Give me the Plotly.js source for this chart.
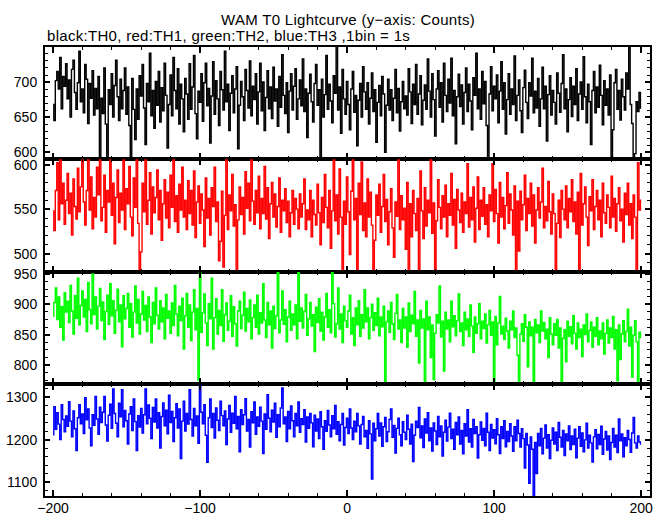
<!DOCTYPE html>
<html>
<head>
<meta charset="utf-8">
<script src="https://cdn.plot.ly/plotly-3.0.1.min.js"></script>
<style>html,body{margin:0;padding:0;background:#fff;}#chart{width:669px;height:515px;}
.annotation-text{letter-spacing:0.3px;}</style>
</head>
<body>
<div id="chart"></div>
<script>
// Time bins (1 bin = 1 s), from -200 s to +200 s
const binStart = -200;
const binSize = 1;

const th0 = [
668,645,702,715,690,735,662,708,694,726,
676,703,650,718,731,685,661,699,744,672,
690,656,725,704,641,698,677,716,653,691,
662,708,592,677,655,720,640,590,689,668,
712,650,695,731,679,645,704,662,688,720,
654,693,638,591,705,661,618,690,647,709,
680,725,663,611,698,672,741,652,688,634,
701,667,715,643,692,659,727,681,606,668,
710,652,735,688,662,719,640,697,676,629,
705,683,647,726,661,693,738,655,619,687,
671,712,644,699,727,666,691,613,680,729,
654,702,676,638,715,689,660,744,672,697,
631,684,709,656,690,722,605,667,701,679,
645,718,688,663,730,652,694,675,712,640,
686,727,659,700,631,678,716,662,693,648,
721,673,690,637,708,664,739,681,655,699,
628,687,712,660,694,719,647,676,703,666,
733,658,690,621,684,711,672,643,698,725,
667,689,589,704,650,682,738,661,697,673,
642,709,684,752,660,693,627,718,676,654,
701,668,632,690,715,657,681,609,674,698,
650,722,686,661,699,640,677,713,658,689,
614,671,695,652,708,683,600,667,704,660,
689,645,677,718,656,691,630,672,701,662,
680,653,719,686,641,697,668,725,654,683,
709,639,674,696,661,733,687,650,712,675,
623,690,716,664,699,643,727,681,658,704,
670,734,652,688,612,679,711,665,696,640,
685,720,658,697,673,632,706,681,741,662,
690,647,715,669,701,638,590,683,722,659,
694,676,710,642,687,729,661,699,626,675,
712,654,690,668,737,645,681,703,659,628,
692,717,671,648,699,680,734,656,687,663,
705,637,676,721,662,694,616,682,709,653,
688,671,640,713,684,657,698,739,662,690,
629,675,706,651,694,668,719,645,683,700,
661,736,679,642,697,672,611,688,715,656,
693,664,724,681,639,702,667,690,653,710,
592,632,699,718,661,688,646,704,679,660,
713,690,752,668,641,588,598,672,658,685,
663];

const th1 = [
548,526,571,602,538,612,556,579,533,560,
590,545,568,521,584,553,539,596,547,575,
609,558,532,571,617,549,586,528,563,541,
597,566,614,537,552,588,524,571,558,606,
543,579,511,563,594,535,568,549,612,527,
573,556,598,541,520,585,552,609,534,478,
502,579,547,611,533,560,591,522,575,546,
563,594,538,571,515,556,583,540,569,529,
588,552,607,536,565,524,578,549,597,541,
560,527,582,545,571,532,593,518,558,576,
534,567,549,508,585,540,562,521,574,553,
597,536,558,492,514,570,485,543,612,527,
566,548,589,531,555,476,538,575,544,563,
522,592,551,579,537,609,559,533,571,546,
587,528,562,545,598,539,574,517,556,580,
541,567,530,553,585,524,560,548,573,535,
559,519,546,571,533,562,550,528,567,541,
556,584,527,549,538,571,519,560,544,532,
578,546,510,563,535,589,552,529,571,506,
548,612,537,566,522,595,541,478,559,533,
586,547,499,570,611,538,562,479,579,544,
603,526,557,519,584,541,569,532,480,515,
566,543,578,524,553,589,536,561,510,547,
573,529,496,558,542,612,527,565,538,551,
505,580,477,556,519,571,545,526,562,482,
593,548,517,574,531,560,546,609,523,557,
478,537,583,552,528,565,541,577,519,556,
543,590,532,561,506,572,549,535,568,524,
558,545,601,530,563,538,575,513,551,586,
527,560,542,574,533,555,519,566,548,601,
536,572,545,512,580,541,563,528,554,591,
534,567,549,521,576,476,559,503,570,538,
555,588,526,562,545,579,531,566,512,549,
574,540,558,596,529,553,537,581,547,522,
567,545,479,534,560,518,571,550,538,576,
529,562,547,583,536,558,522,569,478,590,
532,556,575,541,509,564,548,583,527,553,
571,538,560,519,579,546,534,566,552,529,
587,541,562,525,556,574,537,550,513,568,
544,579,532,556,517,566,541,478,602,549,
560];

const th2 = [
880,903,927,875,912,862,896,841,919,887,
905,870,931,889,851,914,877,943,866,898,
922,879,908,855,936,891,868,950,883,912,
859,897,926,873,904,842,888,915,867,934,
881,906,852,890,925,871,899,830,914,876,
893,918,862,901,846,887,930,869,908,851,
884,921,874,898,855,912,879,837,903,868,
927,882,859,906,871,894,843,916,877,889,
852,902,865,931,884,848,897,873,910,826,
881,918,862,899,840,887,924,858,893,775,
956,854,886,917,869,832,901,876,943,826,
878,909,851,890,865,924,839,883,902,857,
872,914,847,896,868,831,889,905,860,882,
920,856,893,871,907,843,878,899,862,915,
851,886,869,934,874,845,903,866,889,828,
897,860,881,955,853,874,922,867,891,838,
879,905,857,884,866,899,843,952,872,894,
861,888,916,849,876,903,864,883,822,895,
870,909,856,887,841,879,918,862,891,853,
958,901,846,868,927,859,884,837,897,873,
862,889,915,851,878,832,894,866,906,847,
883,861,924,871,894,843,878,900,857,886,
865,910,848,879,863,897,772,871,889,854,
903,868,842,885,916,859,874,837,893,861,
879,829,902,855,882,868,921,847,874,803,
890,861,876,770,905,858,879,812,866,776,
852,883,869,930,846,872,790,887,859,874,
838,905,863,881,848,873,917,855,869,832,
887,858,876,847,899,864,821,879,852,868,
901,843,872,860,884,836,866,890,849,871,
768,880,833,869,913,851,864,842,877,856,
828,872,858,889,845,861,816,770,851,868,
839,883,862,797,871,848,862,773,875,853,
866,837,889,856,870,843,859,812,878,851,
833,868,849,875,828,861,771,844,858,805,
872,847,863,835,881,852,826,869,845,859,
814,866,850,884,838,857,871,829,862,847,
878,833,856,843,869,818,852,874,836,861,
845,880,826,858,774,866,809,851,873,838,
855,892,831,862,780,849,873,838,768,854,
845];

const th3 = [
1212,1278,1225,1264,1237,1201,1283,1248,1219,1256,
1232,1290,1244,1207,1268,1226,1175,1252,1283,1238,
1261,1215,1299,1247,1273,1228,1186,1259,1234,1302,
1249,1213,1277,1241,1265,1302,1235,1197,1258,1284,
1227,1320,1262,1239,1207,1286,1254,1318,1231,1269,
1245,1190,1261,1278,1222,1296,1243,1175,1257,1230,
1274,1216,1259,1320,1238,1282,1251,1203,1276,1242,
1296,1228,1264,1181,1255,1287,1233,1270,1214,1305,
1241,1267,1196,1252,1285,1228,1273,1156,1244,1291,
1221,1262,1237,1318,1248,1209,1274,1233,1256,1192,
1329,1265,1238,1283,1211,1147,1252,1296,1229,1262,
1204,1275,1246,1222,1291,1257,1233,1268,1189,1249,
1281,1218,1263,1239,1302,1226,1255,1172,1271,1236,
1259,1297,1221,1248,1183,1266,1240,1289,1213,1254,
1232,1277,1244,1168,1261,1225,1306,1251,1219,1270,
1242,1286,1206,1259,1231,1275,1322,1238,1254,1196,
1267,1226,1280,1245,1207,1262,1233,1289,1218,1250,
1236,1271,1195,1254,1227,1262,1240,1184,1258,1221,
1249,1203,1266,1231,1178,1245,1220,1269,1235,1207,
1257,1226,1281,1213,1243,1198,1236,1262,1188,1229,
1251,1215,1273,1228,1201,1244,1219,1262,1233,1190,
1236,1255,1207,1222,1180,1245,1214,1108,1239,1198,
1226,1262,1209,1240,1185,1231,1253,1196,1219,1248,
1273,1206,1234,1169,1227,1251,1212,1186,1243,1218,
1201,1258,1225,1190,1237,1149,1211,1244,1229,1276,
1205,1233,1182,1249,1216,1264,1198,1228,1174,1240,
1221,1189,1255,1207,1233,1162,1218,1246,1197,1230,
1263,1203,1225,1178,1241,1212,1254,1190,1222,1167,
1238,1209,1271,1195,1226,1183,1248,1215,1231,1157,
1212,1242,1199,1227,1186,1263,1218,1175,1236,1204,
1224,1191,1250,1212,1168,1231,1203,1245,1184,1220,
1196,1238,1209,1173,1231,1198,1246,1215,1183,1226,
1203,1134,1215,1188,1098,1207,1178,1062,1194,1121,
1215,1186,1227,1167,1204,1235,1181,1212,1156,1199,
1228,1190,1218,1175,1241,1206,1183,1222,1163,1214,
1198,1233,1177,1209,1189,1225,1158,1204,1231,1185,
1216,1172,1200,1239,1181,1211,1193,1148,1207,1224,
1179,1213,1189,1232,1166,1202,1220,1176,1209,1154,
1194,1227,1183,1211,1170,1249,1198,1214,1160,1205,
1186,1222,1201,1171,1216,1253,1193,1181,1209,1195,
1190];

const seriesValues = [th0, th1, th2, th3];
const seriesColors = ['#000000', '#ff0000', '#00ff00', '#0000ff'];
const seriesNames = ['TH0', 'TH1', 'TH2', 'TH3'];
const yRanges = [[590, 749.9], [480, 606], [769, 954], [1068, 1332]];
const yDticks = [50, 50, 50, 100];
const yMinor = [10, 10, 12.5, 20];
const xRange = [-205.5, 206];

const titleText = 'WAM T0 Lightcurve (y\u2212axis: Counts)';
const subtitleText = 'black:TH0, red:TH1, green:TH2, blue:TH3 ,1bin = 1s';

const times = th0.map((_, i) => binStart + i * binSize);

const traces = seriesValues.map((vals, i) => ({
  type: 'scatter', mode: 'lines',
  x: times, y: vals,
  name: seriesNames[i],
  xaxis: i === 0 ? 'x' : 'x' + (i + 1),
  yaxis: i === 0 ? 'y' : 'y' + (i + 1),
  line: {color: seriesColors[i], width: 1.4, shape: 'hvh'},
  hoverinfo: 'skip'
}));

const font = {family: '"Liberation Sans", Arial, Helvetica, sans-serif', size: 14, color: '#000'};
const titleFont = {family: '"Liberation Sans", Arial, Helvetica, sans-serif', size: 15, color: '#000'};

function xAxis(i) {
  return {
    range: xRange, domain: [0, 1],
    anchor: i === 0 ? 'y' : 'y' + (i + 1),
    tickmode: 'linear', tick0: 0, dtick: 100,
    ticks: 'inside', ticklen: 6, tickwidth: 2, tickcolor: '#000',
    minor: {dtick: 20, tick0: 0, ticks: 'inside', ticklen: 3, tickwidth: 1, tickcolor: '#000', showgrid: false},
    showline: true, linecolor: '#000', linewidth: 2, mirror: 'ticks',
    showgrid: false, zeroline: false,
    showticklabels: i === 3,
    ticklabelstandoff: -2,
    tickfont: font
  };
}
function yAxis(i) {
  const top = 1 - i * 0.25;
  return {
    range: yRanges[i], domain: [top - 0.25, top],
    anchor: i === 0 ? 'x' : 'x' + (i + 1),
    tickmode: 'linear', tick0: 0, dtick: yDticks[i],
    ticks: 'inside', ticklen: 5, tickwidth: 2, tickcolor: '#000',
    minor: {dtick: yMinor[i], tick0: 0, ticks: 'inside', ticklen: 3, tickwidth: 1, tickcolor: '#000', showgrid: false},
    showline: true, linecolor: '#000', linewidth: 2, mirror: 'ticks',
    showgrid: false, zeroline: false,
    ticklabelstandoff: 3,
    tickfont: font
  };
}

const layout = {
  width: 669, height: 515,
  margin: {l: 45, r: 19, t: 47, b: 19, pad: 0},
  paper_bgcolor: '#fff', plot_bgcolor: '#fff',
  showlegend: false,
  font: font,
  annotations: [
    {xref: 'paper', yref: 'paper', x: 0.5, y: 1, xanchor: 'center', yanchor: 'bottom', yshift: 17,
     text: titleText, showarrow: false, font: titleFont},
    {xref: 'paper', yref: 'paper', x: 0, y: 1, xanchor: 'left', yanchor: 'bottom', yshift: 1,
     text: subtitleText, showarrow: false, font: titleFont}
  ]
};
for (let i = 0; i < 4; i++) {
  layout[i === 0 ? 'xaxis' : 'xaxis' + (i + 1)] = xAxis(i);
  layout[i === 0 ? 'yaxis' : 'yaxis' + (i + 1)] = yAxis(i);
}

Plotly.newPlot('chart', traces, layout, {displayModeBar: false, staticPlot: true});
</script>
</body>
</html>
